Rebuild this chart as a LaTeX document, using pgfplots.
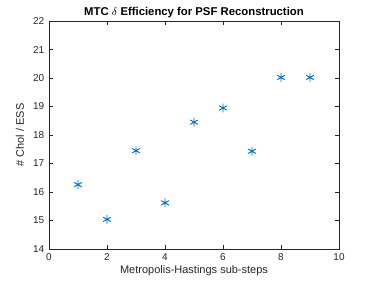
\documentclass[border=0pt]{standalone}
\usepackage{pgfplots}
\pgfplotsset{compat=1.18}
\usepackage{fontspec}
\setmainfont{Liberation Sans}
\definecolor{mblue}{RGB}{0,114,189}
\definecolor{axgray}{RGB}{38,38,38}
\begin{document}
\begin{tikzpicture}
\path[use as bounding box] (-36.75pt,-23.25pt) rectangle (243.75pt,186.75pt);
\begin{axis}[
  at={(0,0)}, anchor=south west,
  scale only axis, width=217.5pt, height=171pt,
  xmin=0, xmax=10, ymin=14, ymax=22,
  xtick={0,2,...,10}, ytick={14,15,...,22},
  tick align=inside, tick pos=both,
  axis line style={axgray, line width=0.4pt},
  every tick/.style={axgray, line width=0.4pt},
  major tick length=3pt,
  tick label style={font=\fontsize{7.5}{9}\selectfont, text=axgray},
  /pgf/number format/assume math mode=true,
  xlabel={Metropolis-Hastings sub-steps},
  ylabel={\# Chol / ESS},
  label style={font=\fontsize{8.25}{10}\selectfont, text=axgray},
  xlabel style={yshift=3pt},
  ylabel style={yshift=0pt},
  title={\textbf{MTC $\delta$ Efficiency for PSF Reconstruction}},
  title style={font=\fontsize{8.5}{10}\selectfont, yshift=-7pt},
]
\addplot[only marks, mark=asterisk, mark size=3.3pt, mblue, mark options={line width=0.7pt}] coordinates {
(1,16.26) (2,15.04) (3,17.45) (4,15.62) (5,18.45) (6,18.95) (7,17.43) (8,20.02) (9,20.02)
};
\end{axis}
\end{tikzpicture}
\end{document}
